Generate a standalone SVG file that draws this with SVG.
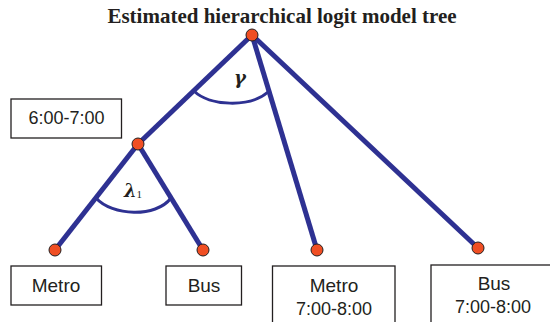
<svg xmlns="http://www.w3.org/2000/svg" width="550" height="322" viewBox="0 0 550 322">
<style>
.edge{stroke:#2E3192;stroke-width:5;fill:none;stroke-linecap:butt}
.arc{stroke:#2E3192;stroke-width:3;fill:none}
.dot{fill:#F04E23;stroke:#231F20;stroke-width:1}
.box{fill:#fff;stroke:#231F20;stroke-width:1.3}
.lbl{font-family:"Liberation Sans",Arial,sans-serif;fill:#231F20;text-anchor:middle}
.greek{font-family:"DejaVu Serif","Liberation Serif",serif;font-style:italic;font-weight:bold;fill:#231F20}
</style>
<rect width="550" height="322" fill="#fff"/>
<text x="282" y="23" font-family="Liberation Serif,'Times New Roman',serif" font-weight="bold" font-size="21" text-anchor="middle" fill="#231F20">Estimated hierarchical logit model tree</text>
<g id="connectors">
<line class="edge" x1="252" y1="35" x2="138" y2="144"/>
<line class="edge" x1="252" y1="35" x2="317" y2="250"/>
<line class="edge" x1="252" y1="35" x2="478" y2="248"/>
<line class="edge" x1="138" y1="144" x2="55" y2="250"/>
<line class="edge" x1="138" y1="144" x2="203" y2="250"/>
<path class="arc" d="M194,91 C209,106 250,108 268,92"/>
<path class="arc" d="M96,198 C112,216 156,218 171,198"/>
<text class="greek" x="240" y="84" font-size="18" text-anchor="middle">γ</text>
<text class="greek" x="133" y="197" font-size="18" text-anchor="middle">λ<tspan font-family="Liberation Serif,serif" font-size="11" font-weight="normal" font-style="normal" dy="1">1</tspan></text>
</g>
<g id="root"><circle class="dot" cx="252" cy="35" r="6"/></g>
<g id="mid"><circle class="dot" cx="138" cy="144" r="6"/></g>
<g id="label-6-7">
<rect class="box" x="11" y="99" width="110.5" height="39"/>
<text class="lbl" x="66.5" y="124.3" font-size="18">6:00-7:00</text>
</g>
<g id="leaf-metro">
<circle class="dot" cx="55" cy="250" r="6"/>
<rect class="box" x="11" y="266" width="90.5" height="39"/>
<text class="lbl" x="56" y="291.7" font-size="19">Metro</text>
</g>
<g id="leaf-bus">
<circle class="dot" cx="203" cy="250" r="6"/>
<rect class="box" x="166" y="266" width="75.5" height="39"/>
<text class="lbl" x="204" y="291.7" font-size="19">Bus</text>
</g>
<g id="leaf-metro-78">
<circle class="dot" cx="317" cy="250" r="6"/>
<rect class="box" x="272.5" y="266" width="122.5" height="70"/>
<text class="lbl" x="334" y="292.3" font-size="19">Metro</text>
<text class="lbl" x="334" y="315" font-size="18">7:00-8:00</text>
</g>
<g id="leaf-bus-78">
<circle class="dot" cx="478" cy="248" r="6"/>
<rect class="box" x="431" y="265" width="130" height="70"/>
<text class="lbl" x="494" y="290" font-size="19">Bus</text>
<text class="lbl" x="493" y="313.3" font-size="18">7:00-8:00</text>
</g>
</svg>
